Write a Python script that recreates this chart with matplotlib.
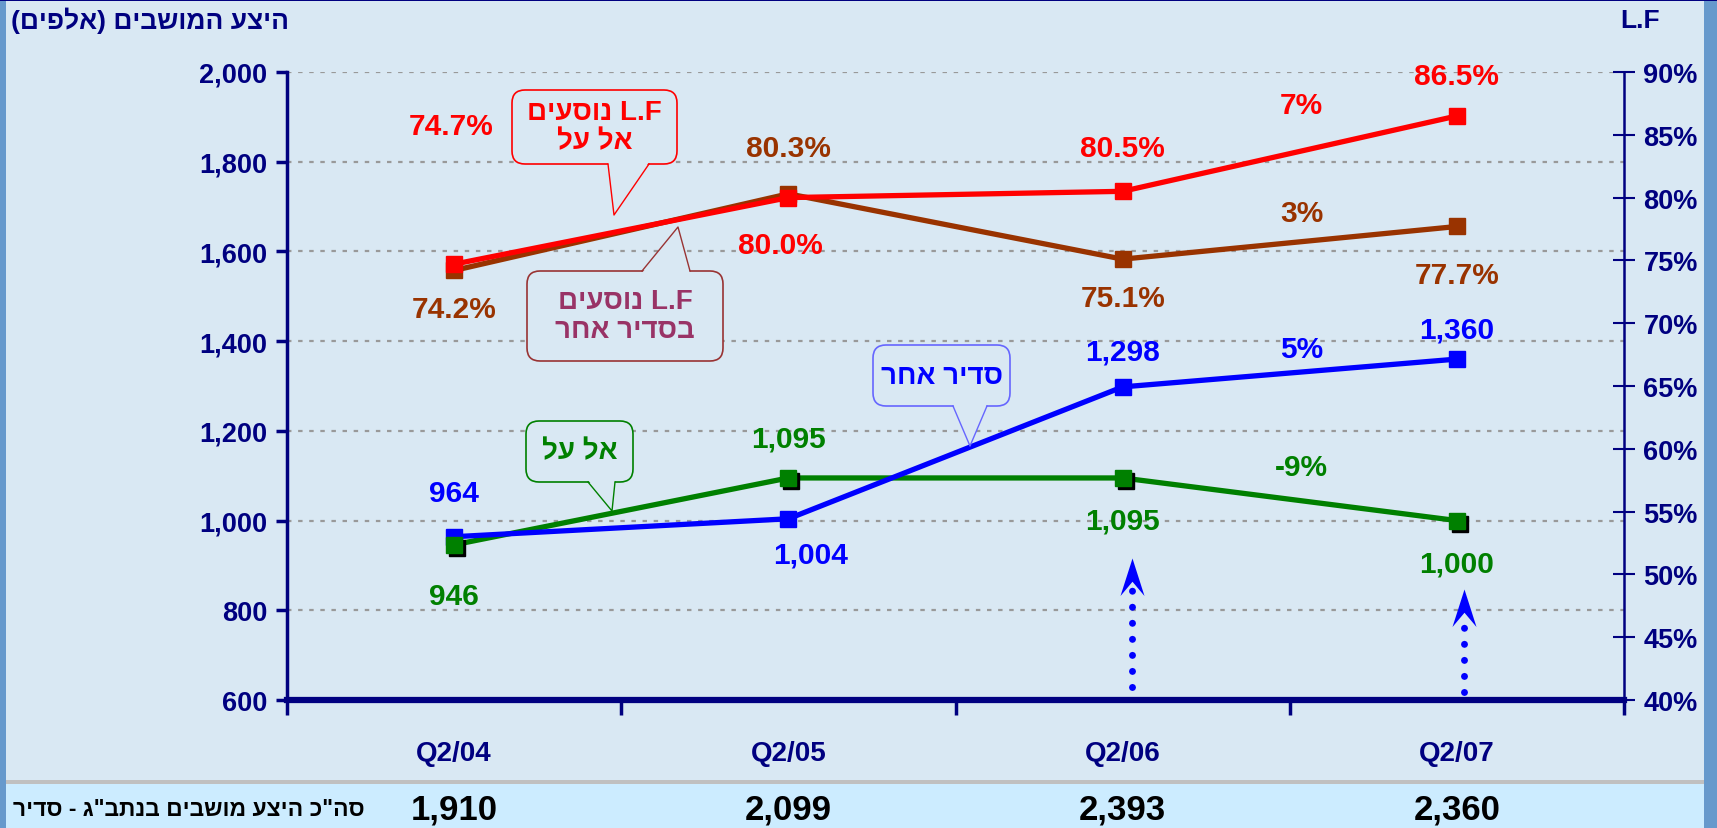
import matplotlib
matplotlib.use("Agg")
import matplotlib.pyplot as plt
import numpy as np
from matplotlib.patches import Rectangle, FancyBboxPatch, Polygon
from matplotlib.lines import Line2D
from matplotlib.path import Path
from matplotlib.transforms import offset_copy, blended_transform_factory, IdentityTransform

plt.rcParams['font.family'] = ['Liberation Sans', 'DejaVu Sans']
plt.rcParams['font.weight'] = 'bold'

# data
quarters = ["Q2/04", "Q2/05", "Q2/06", "Q2/07"]
seats_elal = [946, 1095, 1095, 1000]        # היצע מושבים אל על (אלפים)
seats_other = [964, 1004, 1298, 1360]       # היצע מושבים סדיר אחר
lf_elal = [74.7, 80.0, 80.5, 86.5]          # L.F נוסעים אל על
lf_other = [74.2, 80.3, 75.1, 77.7]         # L.F נוסעים בסדיר אחר
seats_total = [1910, 2099, 2393, 2360]
change_lf_elal = "7%"
change_lf_other = "3%"
change_seats_other = "5%"
change_seats_elal = "-9%"

W, H = 1717, 829
BG = '#D9E8F3'
NAVY = '#000080'
RED = '#FF0000'
BROWN = '#993300'
BLUE = '#0000FF'
GREEN = '#008000'


def rtl(s):
    # matplotlib kennt kein bidi -> hebräisch umdrehen
    return s[::-1].translate(str.maketrans("()", ")("))


def fpos(px, py):
    # pixel (von oben links) -> figure fraction
    return (px / W, 1 - py / H)


fig = plt.figure(figsize=(W / 100, H / 100), dpi=100, facecolor=BG)

# rahmen und untere leiste
for r in [Rectangle((6 / W, 0), (1704 - 6) / W, 44 / H, fc='#CCECFF'),
          Rectangle((6 / W, 44 / H), (1704 - 6) / W, 4 / H, fc='#C0C0C0'),
          Rectangle((0, 0), 6 / W, 1, fc='#6699CC'),
          Rectangle((1704 / W, 0), 13 / W, 1, fc='#6699CC'),
          Rectangle((0, 1 - 2 / H), 1, 2 / H, fc=NAVY)]:
    r.set_transform(fig.transFigure)
    r.set_edgecolor('none')
    r.set_zorder(-1)
    fig.add_artist(r)

ax = fig.add_axes([287 / W, 1 - 701 / H, (1624 - 287) / W, (701 - 73) / H])
ax.set_facecolor('none')
ax2 = ax.twinx()

x = np.arange(len(quarters)) + 0.5
ax.set_xlim(0, len(quarters))
ax.set_ylim(600, 2000)
ax2.set_ylim(40, 90)

# gitter
for v in range(800, 2001, 200):
    ax.axhline(v, color='#999999', lw=1.6, ls=(0, (2, 3)), zorder=0)

# linke achse: sitzplätze
shadow = offset_copy(ax.transData, fig=fig, x=3, y=-3, units='dots')
ax.plot(x, seats_elal, color=GREEN, lw=3.8, zorder=2)
ax.plot(x, seats_other, color=BLUE, lw=3.8, zorder=3)
ax.plot(x, seats_other, 's', color=BLUE, ms=11.5, zorder=4)
ax.plot(x, seats_elal, 's', color='black', ms=11.5, transform=shadow, zorder=4)
ax.plot(x, seats_elal, 's', color=GREEN, ms=11.5, zorder=5)

# rechte achse: L.F
ax2.plot(x, lf_other, color=BROWN, lw=3.8, marker='s', ms=11.5, zorder=2)
ax2.plot(x, lf_elal, color=RED, lw=3.8, marker='s', ms=11.5, zorder=3)

# achsen
ax.set_yticks(range(600, 2001, 200))
ax.set_yticklabels([f"{v:,}" for v in range(600, 2001, 200)])
ax.tick_params(axis='y', direction='out', length=8, width=2.5, color=NAVY,
               labelcolor=NAVY, labelsize=19.5, pad=6)
ax2.set_yticks(range(40, 91, 5))
ax2.set_yticklabels([f"{v}%" for v in range(40, 91, 5)])
ax2.tick_params(axis='y', direction='inout', length=16, width=1.5, color=NAVY,
                labelcolor=NAVY, labelsize=19.5, pad=6)

ax.set_xticks(range(len(quarters) + 1))
ax.set_xticklabels([])
ax.tick_params(axis='x', which='major', direction='out', length=11, width=2.5, color=NAVY)
ax.set_xticks(x, minor=True)
ax.set_xticklabels(quarters, minor=True)
ax.tick_params(axis='x', which='minor', length=0, pad=29, labelsize=20, labelcolor=NAVY)

for s in ['top', 'right']:
    ax.spines[s].set_visible(False)
for s in ['top', 'left', 'bottom']:
    ax2.spines[s].set_visible(False)
ax.spines['left'].set_color(NAVY)
ax.spines['left'].set_linewidth(2.5)
ax.spines['bottom'].set_color(NAVY)
ax.spines['bottom'].set_linewidth(4.5)
ax2.spines['right'].set_color(NAVY)
ax2.spines['right'].set_linewidth(1.8)

# werte beschriften
def label(axis, xs, ys, fmt, color, offs, dx=None):
    for i, (xv, yv) in enumerate(zip(xs, ys)):
        ox = 0 if dx is None else dx[i]
        axis.annotate(fmt(yv), (xv, yv), xytext=(ox, offs[i]), textcoords='offset pixels',
                      ha='center', va='center', color=color, fontsize=21.5, fontweight='bold')

label(ax2, x, lf_elal, lambda v: f"{v:.1f}%", RED, [138, -47, 43, 40], [-3, -8, 0, 0])
label(ax2, x, lf_other, lambda v: f"{v:.1f}%", BROWN, [-39, 46, -39, -49])
label(ax, x, seats_other, lambda v: f"{v:,}", BLUE, [44, -36, 35, 30], [0, 22, 0, 0])
label(ax, x, seats_elal, lambda v: f"{v:,}", GREEN, [-51, 39, -43, -43])

# veränderung Q2/06 -> Q2/07
for axis, ys, txt, color, oy in [(ax2, lf_elal, change_lf_elal, RED, 49),
                                 (ax2, lf_other, change_lf_other, BROWN, 30),
                                 (ax, seats_other, change_seats_other, BLUE, 24),
                                 (ax, seats_elal, change_seats_elal, GREEN, 32)]:
    axis.annotate(txt, (x[2:].mean(), np.mean(ys[2:])), xytext=(12, oy), textcoords='offset pixels',
                  ha='center', va='center', color=color, fontsize=21.5, fontweight='bold')

# gepunktete pfeile
head = Path([(0, 0), (0.32, -1), (0, -0.62), (-0.32, -1), (0, 0)],
            [Path.MOVETO, Path.LINETO, Path.LINETO, Path.LINETO, Path.CLOSEPOLY])
for xa, y0, y1, ytip in [(x[2] + 0.027, 629, 845, 917), (x[3] + 0.02, 618, 770, 848)]:
    ax.plot([xa, xa], [y0, y1], color=BLUE, lw=5, ls=(0, (0.01, 2.3)),
            dash_capstyle='round', zorder=6)
    ax.plot([xa], [ytip], marker=head, color=BLUE, ms=54, mew=0, zorder=6)


# sprechblasen (pixel von oben links)
def callout(text, color, ec, box, base, tip):
    x0, y0, x1, y1 = box
    px = IdentityTransform()
    fig.add_artist(FancyBboxPatch((x0, H - y1), x1 - x0, y1 - y0,
                                  boxstyle='round,pad=0,rounding_size=13',
                                  transform=px, fc=BG, ec=ec, lw=1.2, zorder=5))
    edge = y1 if tip[1] > y1 else y0
    inner = edge - 2 if tip[1] > y1 else edge + 2
    fig.add_artist(Polygon([(base[0], H - inner), (tip[0], H - tip[1]), (base[1], H - inner)],
                           closed=True, transform=px, fc=BG, ec='none', zorder=5.1))
    fig.add_artist(Line2D([base[0], tip[0], base[1]], [H - edge, H - tip[1], H - edge],
                          transform=px, color=ec, lw=1.0, zorder=5.2))
    fig.text((x0 + x1) / 2 / W, 1 - (y0 + y1) / 2 / H, text, ha='center', va='center',
             color=color, fontsize=20, fontweight='bold', linespacing=1.15, zorder=5.3)

lf_txt = rtl("נוסעים") + " L.F"
callout(lf_txt + "\n" + rtl("אל על"), RED, RED, (512, 91, 677, 165), (608, 649), (614, 216))
callout(lf_txt + "\n" + rtl("בסדיר אחר"), '#993366', '#993333', (527, 272, 723, 362), (642, 690), (678, 228))
callout(rtl("אל על"), GREEN, GREEN, (526, 422, 633, 483), (588, 615), (612, 512))
callout(rtl("סדיר אחר"), BLUE, '#6666FF', (873, 346, 1010, 407), (953, 987), (970, 447))

# titel
fig.text(*fpos(11, 21), rtl("היצע המושבים (אלפים)"), ha='left', va='center',
         color=NAVY, fontsize=19, fontweight='bold')
fig.text(*fpos(1640, 21), "L.F", ha='center', va='center', color=NAVY, fontsize=19, fontweight='bold')

# untere leiste: gesamt
band = blended_transform_factory(ax.transData, fig.transFigure)
for xv, tot in zip(x, seats_total):
    ax.text(xv, 1 - 810 / H, f"{tot:,}", transform=band, ha='center', va='center',
            color='black', fontsize=25, fontweight='bold', clip_on=False)
fig.text(*fpos(13, 810), rtl('סה"כ היצע מושבים בנתב"ג - סדיר'), ha='left', va='center',
         color='black', fontsize=16.5, fontweight='bold')

fig.savefig("out.png", dpi=100, facecolor=BG)
